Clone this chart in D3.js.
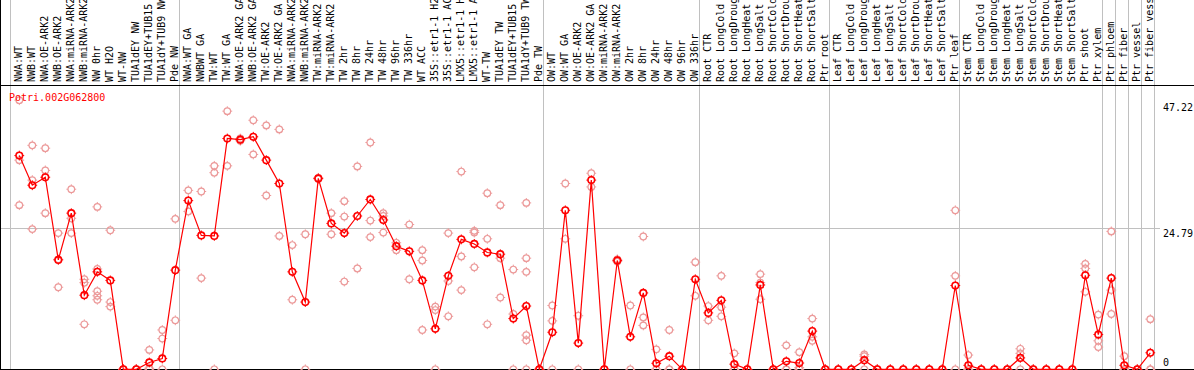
<!DOCTYPE html>
<html>
<head>
<meta charset="utf-8">
<script src="https://cdn.jsdelivr.net/npm/d3@7"></script>
<style>
body { margin: 0; background: #fff; }
svg { display: block; font-family: "DejaVu Sans Mono", monospace; font-size: 10px; }
</style>
</head>
<body>
<div id="chart"></div>
<script>
const title = "Potri.002G062800";

const samples = [
  "NWA:WT", "NWB:WT", "NWA:OE-ARK2", "NWB:OE-ARK2", "NWA:miRNA-ARK2", "NWB:miRNA-ARK2",
  "NW 0hr", "WT H2O", "WT-NW", "TUA1dEY NW", "TUA1dEY+TUB15", "TUA1dY+TUB9 NW", "Pde NW",
  "NWA:WT GA", "NWBWT GA", "TW:WT", "TW:WT GA", "NWA:OE-ARK2 GA", "NWB:OE-ARK2 GA",
  "TW:OE-ARK2", "TW:OE-ARK2 GA", "NWA:miRNA-ARK2", "NWB:miRNA-ARK2", "TW:miRNA-ARK2",
  "TW:miRNA-ARK2", "TW 2hr", "TW 8hr", "TW 24hr", "TW 48hr", "TW 96hr", "TW 336hr", "WT ACC",
  "35S::etr1-1 H2", "35S::etr1-1 AC", "LMX5::etr1-1 H", "LMX5::etr1-1 A", "WT-TW",
  "TUA1dEY TW", "TUA1dEY+TUB15", "TUA1dY+TUB9 TW", "Pde TW",
  "OW:WT", "OW:WT GA", "OW:OE-ARK2", "OW:OE-ARK2 GA", "OW:miRNA-ARK2", "OW:miRNA-ARK2",
  "OW 2hr", "OW 8hr", "OW 24hr", "OW 48hr", "OW 96hr", "OW 336hr",
  "Root CTR", "Root LongCold", "Root LongDroug", "Root LongHeat", "Root LongSalt",
  "Root ShortCold", "Root ShortDrou", "Root ShortHeat", "Root ShortSalt", "Ptr root",
  "Leaf CTR", "Leaf LongCold", "Leaf LongDroug", "Leaf LongHeat", "Leaf LongSalt",
  "Leaf ShortCold", "Leaf ShortDrou", "Leaf ShortHeat", "Leaf ShortSalt", "Ptr leaf",
  "Stem CTR", "Stem LongCold", "Stem LongDroug", "Stem LongHeat", "Stem LongSalt",
  "Stem ShortCold", "Stem ShortDrou", "Stem ShortHeat", "Stem ShortSalt", "Ptr shoot",
  "Ptr xylem", "Ptr phloem", "Ptr fiber", "Ptr vessel", "Ptr fiber vessel"
];

// sizes of the column groups separated by grey lines
const groupSizes = [13, 28, 12, 10, 10, 11, 1, 1, 1, 1];

const means = [
  37.5, 32.3, 33.7, 19.2, 27.4, 13.0, 17.1, 15.6, 0, 0, 1.2, 1.9, 17.4,
  29.6, 23.5, 23.4, 40.5, 40.3, 40.8, 36.7, 32.6, 17.1, 11.8, 33.5, 25.6, 23.9,
  26.9, 29.8, 26.2, 21.6, 20.7, 15.6, 7.1, 16.4, 22.8, 22.0, 20.5, 20.2, 8.9, 11.1, 0,
  6.5, 27.9, 4.6, 33.2, 0, 19.1, 5.7, 13.4, 1.05, 2.3, 0, 15.8,
  9.9, 12.1, 0.9, 0, 14.8, 0, 1.4, 1.1, 6.7, 0,
  0, 0, 1.6, 0, 0, 0, 0, 0, 0, 14.7,
  0.7, 0, 0, 0, 2.0, 0, 0, 0, 0, 16.5, 6.1,
  16.0, 0.7, 0, 2.9
];

const replicates = [
  [47.22, 36.7, 28.8], [39.3, 33.2, 24.6], [38.8, 34.9, 27.4], [23.9, 19.3, 14.4],
  [31.6, 26.5, 23.9], [15.8, 15.2, 7.9], [28.5, 17.6, 13.7, 12.9, 12.2], [24.4, 11.8, 11.0],
  [0, 0, 0], [0, 0, 0], [3.4, 0.2, 0], [6.9, 5.4, 0], [26.4, 8.6],
  [31.4, 27.7], [31.2, 16.0], [35.7, 34.5, 0], [45.3, 35.7], [40.5, 40.1], [43.7, 37.7],
  [42.8, 30.5], [42.1, 23.4], [21.8, 12.2], [23.7, 0], [33.6, 33.4], [27.4, 23.7],
  [29.5, 26.8, 15.4], [35.6, 17.7], [39.8, 26.1, 23.2], [27.4, 26.9, 24.0], [22.2, 20.9],
  [25.4, 15.8], [20.9, 19.1, 6.9], [11.0, 10.4, 0], [23.9, 15.5, 9.3], [34.7, 19.8, 13.9],
  [24.3, 24.0, 17.9], [30.9, 22.9, 7.9], [28.8, 19.5, 12.6], [17.5, 9.7, 0],
  [29.2, 19.5, 17.1, 6.0, 5.1, 0], [0, 0, 0],
  [11.2, 8.5, 0], [32.6, 22.9], [9.4, 0], [34.4, 32.0], [0, 0], [19.3, 18.9], [11.2, 0],
  [23.3, 9.1, 7.7], [3.5, 0, 0], [6.9, 0, 0], [0, 0], [18.8, 12.9],
  [11.1, 8.6], [16.4, 10.9, 9.3], [2.8, 0, 0], [0, 0], [16.7, 15.2, 12.3], [0, 0],
  [4.2, 0, 0], [3.0, 0.3, 0], [8.9, 5.7, 5.0], [0, 0],
  [0, 0], [0, 0], [2.6, 2.3, 0], [0, 0], [0, 0], [0, 0], [0, 0], [0, 0], [0, 0],
  [27.9, 16.4, 0],
  [2.5, 0, 0], [0, 0], [0, 0], [0, 0], [3.6, 2.8, 0], [0, 0], [0, 0], [0, 0], [0, 0],
  [18.5, 17.7, 13.6], [9.6, 5.0, 3.9],
  [24.2, 13.9, 9.7], [2.3, 0, 0], [0, 0], [8.8, 0, 0]
];

const yTicks = [47.22, 24.79, 0];

const width = 1194, height = 370;
const headerBottom = 85;

const svg = d3.select("#chart").append("svg")
    .attr("width", width)
    .attr("height", height);

const x = d3.scaleBand().domain(d3.range(samples.length)).range([11, 1155]);
const y = d3.scaleLinear().domain([0, 47.22]).range([369.3, 100.2]);
const px = i => x(i) + 8.3;

// group boundaries
let starts = [0];
groupSizes.forEach(s => starts.push(starts[starts.length - 1] + s));
const gridX = starts.map(s => s < samples.length ? x(s) : x(samples.length - 1) + x.bandwidth());

svg.selectAll(".vgrid")
    .data(gridX)
    .enter().append("line")
    .attr("x1", d => Math.round(d) - 0.5)
    .attr("x2", d => Math.round(d) - 0.5)
    .attr("y1", 0)
    .attr("y2", height)
    .attr("stroke", "#c0c0c0");

svg.append("line")
    .attr("x1", 0).attr("x2", 1160)
    .attr("y1", Math.round(y(24.79)) + 0.5).attr("y2", Math.round(y(24.79)) + 0.5)
    .attr("stroke", "#c0c0c0");

// frame
svg.append("line").attr("x1", 0).attr("x2", width).attr("y1", headerBottom + 0.5).attr("y2", headerBottom + 0.5).attr("stroke", "#000");
svg.append("line").attr("x1", 0).attr("x2", width).attr("y1", 369.5).attr("y2", 369.5).attr("stroke", "#000");
svg.append("line").attr("x1", 0.5).attr("x2", 0.5).attr("y1", 0).attr("y2", height).attr("stroke", "#000");

// sample labels
svg.selectAll(".label")
    .data(samples)
    .enter().append("text")
    .attr("class", "label")
    .attr("transform", (d, i) => "translate(" + (px(i) + 3) + "," + (headerBottom - 3) + ") rotate(-90)")
    .attr("fill", "#000")
    .text(d => d);

function marker(g, cx, cy, color, sw) {
    const r = 3.3;
    const m = g.append("g").attr("transform", "translate(" + cx + "," + cy + ")");
    m.append("circle").attr("r", r).attr("fill", "none").attr("stroke", color).attr("stroke-width", sw);
    [[0, -1], [0, 1], [-1, 0], [1, 0]].forEach(([dx, dy]) => {
        m.append("line")
            .attr("x1", dx * r).attr("y1", dy * r)
            .attr("x2", dx * (r + 1.6)).attr("y2", dy * (r + 1.6))
            .attr("stroke", color).attr("stroke-width", 1);
    });
}

// replicate points
const repG = svg.append("g");
replicates.forEach((reps, i) => {
    reps.forEach(v => marker(repG, px(i), y(v), "#ec9a9a", 1.2));
});

// mean line
const line = d3.line().x((d, i) => px(i)).y(d => y(d));
svg.append("path")
    .datum(means)
    .attr("d", line)
    .attr("fill", "none")
    .attr("stroke", "#ff0000")
    .attr("stroke-width", 1.2);

const meanG = svg.append("g");
means.forEach((v, i) => marker(meanG, px(i), y(v), "#ff0000", 1.6));

// title
svg.append("text")
    .attr("x", 9)
    .attr("y", 100.5)
    .attr("fill", "#ff0000")
    .text(title);

// right axis labels
const yLabelPos = { "47.22": 111, "24.79": 236.5, "0": 365.5 };
svg.selectAll(".ylab")
    .data(yTicks)
    .enter().append("text")
    .attr("x", 1163)
    .attr("y", d => yLabelPos[String(d)])
    .attr("fill", "#000")
    .text(d => String(d));
</script>
</body>
</html>
